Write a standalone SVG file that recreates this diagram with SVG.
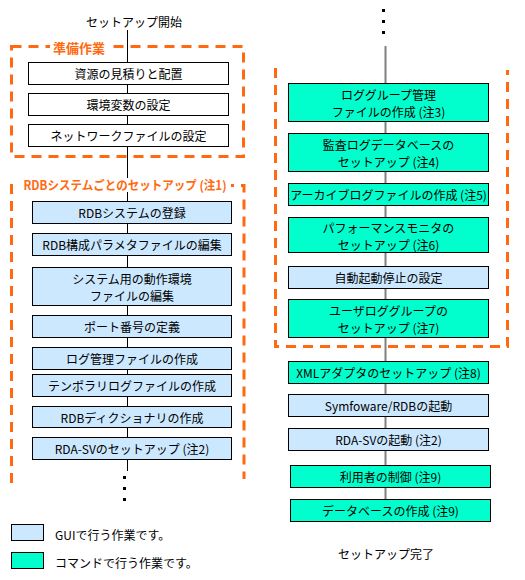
<svg xmlns="http://www.w3.org/2000/svg" width="525" height="580" viewBox="0 0 525 580">
<style>
text{font-family:"Noto Sans CJK JP","Liberation Sans",sans-serif;font-size:12px;fill:#000;text-anchor:middle;dominant-baseline:central}
.gui{fill:#CCE8FF;stroke:#000;stroke-width:1}
.cmd{fill:#00FFCC;stroke:#000;stroke-width:1}
.wht{fill:#fff;stroke:#000;stroke-width:1}
.grp{fill:none;stroke:#FF6A10;stroke-width:3;stroke-dasharray:10 7}
.ttl{fill:#FF6A10;font-weight:bold;font-size:13px}
.dot{fill:#000}
</style>
<rect width="525" height="580" fill="#fff"/>
<g id="connectors">
<line x1="127.5" y1="30" x2="127.5" y2="471" stroke="#000" stroke-width="1"/>
<line x1="385.5" y1="46" x2="385.5" y2="499" stroke="#808080" stroke-width="2"/>
</g>
<g id="start"><text x="134" y="21">セットアップ開始</text></g>
<g id="group-prep">
<rect class="grp" x="11.5" y="46.5" width="232" height="110"/>
<rect x="50" y="40" width="60" height="14" fill="#fff"/>
<text class="ttl" x="79" y="47">準備作業</text>
</g>
<g id="group-rdb">
<path class="grp" d="M11.5 483 V185.5 H244 V479"/>
<rect x="20" y="178" width="211" height="14" fill="#fff"/>
<text class="ttl" x="125" y="184" textLength="203" lengthAdjust="spacingAndGlyphs" style="font-size:12.5px">RDBシステムごとのセットアップ (注1)</text>
</g>
<g id="group-right">
<path class="grp" d="M275.5 68 V346.5 H507.5 V70"/>
</g>
<g id="n1"><rect class="wht" x="28.5" y="62.5" width="200" height="22"/><text x="128.5" y="73.5">資源の見積りと配置</text></g>
<g id="n2"><rect class="wht" x="28.5" y="93.5" width="200" height="22"/><text x="128.5" y="104.5">環境変数の設定</text></g>
<g id="n3"><rect class="wht" x="28.5" y="124.5" width="200" height="22"/><text x="128.5" y="135.5">ネットワークファイルの設定</text></g>
<g id="n4"><rect class="gui" x="32.5" y="201.5" width="199" height="22"/><text x="132" y="212.5">RDBシステムの登録</text></g>
<g id="n5"><rect class="gui" x="32.5" y="233.5" width="199" height="22"/><text x="132" y="244.5">RDB構成パラメタファイルの編集</text></g>
<g id="n6"><rect class="gui" x="32.5" y="267.5" width="199" height="38"/><text x="132" y="278">システム用の動作環境</text><text x="132" y="295">ファイルの編集</text></g>
<g id="n7"><rect class="gui" x="32.5" y="315.5" width="199" height="22"/><text x="132" y="326.5">ポート番号の定義</text></g>
<g id="n8"><rect class="gui" x="32.5" y="347.5" width="199" height="22"/><text x="132" y="358.5">ログ管理ファイルの作成</text></g>
<g id="n9"><rect class="gui" x="32.5" y="374.5" width="199" height="22"/><text x="132" y="385.5">テンポラリログファイルの作成</text></g>
<g id="n10"><rect class="gui" x="32.5" y="406.5" width="199" height="21"/><text x="132" y="417">RDBディクショナリの作成</text></g>
<g id="n11"><rect class="gui" x="32.5" y="437.5" width="199" height="22"/><text x="132" y="448.5">RDA-SVのセットアップ (注2)</text></g>
<g id="dots-left">
<rect class="dot" x="123" y="476" width="3" height="3"/>
<rect class="dot" x="123" y="487" width="3" height="3"/>
<rect class="dot" x="123" y="498" width="3" height="3"/>
</g>
<g id="dots-right">
<rect class="dot" x="382" y="9" width="3" height="3"/>
<rect class="dot" x="382" y="20" width="3" height="3"/>
<rect class="dot" x="382" y="31" width="3" height="3"/>
</g>
<g id="r1"><rect class="cmd" x="288.5" y="83.5" width="200" height="38"/><text x="388.5" y="94">ロググループ管理</text><text x="388.5" y="111">ファイルの作成 (注3)</text></g>
<g id="r2"><rect class="cmd" x="288.5" y="133.5" width="200" height="38"/><text x="388.5" y="144">監査ログデータベースの</text><text x="388.5" y="161">セットアップ (注4)</text></g>
<g id="r3"><rect class="cmd" x="288.5" y="183.5" width="200" height="22"/><text x="388.5" y="194.5">アーカイブログファイルの作成 (注5)</text></g>
<g id="r4"><rect class="cmd" x="288.5" y="217.5" width="200" height="35"/><text x="388.5" y="227">パフォーマンスモニタの</text><text x="388.5" y="244">セットアップ (注6)</text></g>
<g id="r5"><rect class="gui" x="288.5" y="266.5" width="200" height="22"/><text x="388.5" y="277.5">自動起動停止の設定</text></g>
<g id="r6"><rect class="cmd" x="288.5" y="299.5" width="200" height="38"/><text x="388.5" y="310">ユーザロググループの</text><text x="388.5" y="327">セットアップ (注7)</text></g>
<g id="r7"><rect class="cmd" x="288.5" y="361.5" width="200" height="22"/><text x="388.5" y="372.5">XMLアダプタのセットアップ (注8)</text></g>
<g id="r8"><rect class="gui" x="288.5" y="394.5" width="200" height="22"/><text x="388.5" y="405.5">Symfoware/RDBの起動</text></g>
<g id="r9"><rect class="gui" x="288.5" y="428.5" width="200" height="22"/><text x="388.5" y="439.5">RDA-SVの起動 (注2)</text></g>
<g id="r10"><rect class="cmd" x="290.5" y="465.5" width="200" height="22"/><text x="390.5" y="476.5">利用者の制御 (注9)</text></g>
<g id="r11"><rect class="cmd" x="290.5" y="499.5" width="200" height="22"/><text x="390.5" y="510.5">データベースの作成 (注9)</text></g>
<g id="end"><text x="386" y="553">セットアップ完了</text></g>
<g id="legend">
<rect class="gui" x="11.5" y="524.5" width="32" height="16"/>
<text x="55" y="534" style="text-anchor:start">GUIで行う作業です。</text>
<rect class="cmd" x="11.5" y="552.5" width="32" height="16"/>
<text x="55" y="562" style="text-anchor:start">コマンドで行う作業です。</text>
</g>
</svg>
